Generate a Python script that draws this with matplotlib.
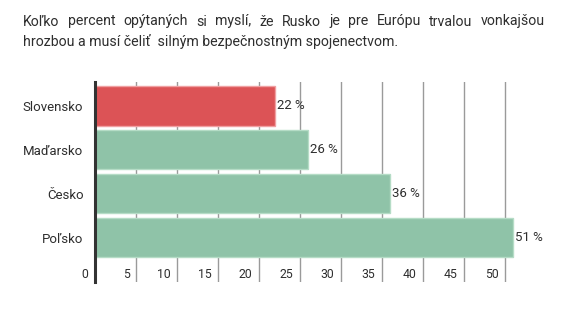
import matplotlib.pyplot as plt
import matplotlib.transforms as mtransforms

plt.rcParams['font.family'] = ['Roboto', 'DejaVu Sans']

countries = ['Slovensko', 'Maďarsko', 'Česko', 'Poľsko']
values = [22, 26, 36, 51]
bar_colors = ['#dc5356', '#8fc3a8', '#8fc3a8', '#8fc3a8']
edge_colors = ['#f0a0a2', '#b5dcc6', '#b5dcc6', '#b5dcc6']
xticks = [0, 5, 10, 15, 20, 25, 30, 35, 40, 45, 50]

title_line1 = 'Koľko percent opýtaných si myslí, že Rusko je pre Európu trvalou vonkajšou'
title_line2 = 'hrozbou a musí čeliť  silným bezpečnostným spojenectvom.'

W, H = 566, 323
text_color = '#2e2e2e'
fig = plt.figure(figsize=(W / 100, H / 100), dpi=100)
fig.patch.set_facecolor('white')

# plot area in pixel units
x0, x1 = 94.5, 525.0
y_top, y_bot = 82.0, 282.0
ax = fig.add_axes([x0 / W, (H - y_bot) / H, (x1 - x0) / W, (y_bot - y_top) / H])

pos = list(range(len(countries)))
ax.barh(pos, values, height=0.9, color=bar_colors, edgecolor=edge_colors,
        linewidth=1.0, zorder=3)
ax.set_xlim(0, 52.5)
ax.set_ylim(len(countries) - 1 + 1.01, -0.54)

for p, v in zip(pos, values):
    ax.text(v + 0.25, p, f'{v} %', va='center', ha='left', fontsize=9.5,
            color=text_color, zorder=4)

# vertical grid
for t in xticks[1:]:
    ax.axvline(t, color='#9a9a9a', linewidth=1.0, zorder=1)

for s in ['top', 'right', 'bottom']:
    ax.spines[s].set_visible(False)
ax.spines['left'].set_color('#333333')
ax.spines['left'].set_linewidth(2.2)
ax.spines['left'].set_zorder(5)

ax.set_yticks(pos)
ax.set_yticklabels(countries, fontsize=9.5, color=text_color)
ax.tick_params(axis='y', length=0, pad=8)

ax.set_xticks(xticks)
ax.set_xticklabels([str(t) for t in xticks], fontsize=8.8, color=text_color)
ax.tick_params(axis='x', length=0, pad=-10)
shift = mtransforms.ScaledTranslation(-6 / 100, 0, fig.dpi_scale_trans)
for lbl in ax.get_xticklabels():
    lbl.set_horizontalalignment('right')
    lbl.set_transform(lbl.get_transform() + shift)

# justified first title line: place each word from the width of the text before it
tx0, tx1 = 23.0, 545.0
title_size = 10.2
renderer = fig.canvas.get_renderer()
words = title_line1.split(' ')


def text_width(s):
    t = fig.text(0, 0, s, fontsize=title_size)
    w = t.get_window_extent(renderer).width
    t.remove()
    return w


natural = text_width(title_line1)
extra = ((tx1 - tx0) - natural) / (len(words) - 1)
base1 = H - 25.5
for i, w in enumerate(words):
    prefix = ' '.join(words[:i]) + ' ' if i else ''
    xw = tx0 + (text_width(prefix + w) - text_width(w)) + i * extra
    fig.text(xw / W, base1 / H, w, fontsize=title_size, color=text_color,
             va='baseline')
fig.text(tx0 / W, (H - 46.0) / H, title_line2, fontsize=title_size,
         color=text_color, va='baseline')

fig.savefig('out.png', dpi=100)
